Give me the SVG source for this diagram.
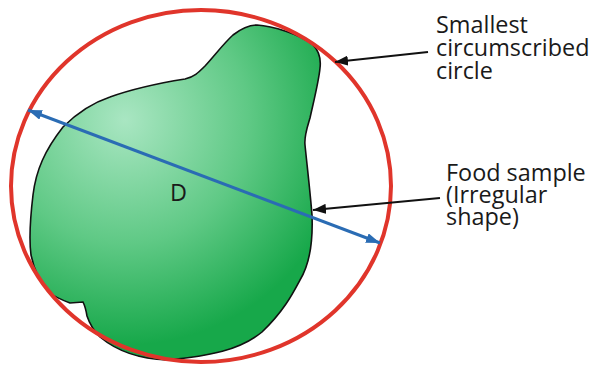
<svg xmlns="http://www.w3.org/2000/svg" width="597" height="366" viewBox="0 0 597 366">
<style>
.lbl{font-family:"Open Sans","Noto Sans",sans-serif;font-size:23.4px;fill:#1a1a1a}
.ptr{stroke:#111;stroke-width:2;fill:none}
</style>
<defs>
<radialGradient id="g" gradientUnits="userSpaceOnUse" cx="125" cy="120" r="225">
<stop offset="0" stop-color="#a9e6c2"/>
<stop offset="0.55" stop-color="#5fc985"/>
<stop offset="1" stop-color="#17a84a"/>
</radialGradient>
<marker id="ab" viewBox="0 0 14 10" refX="14" refY="5" markerWidth="14" markerHeight="10" markerUnits="userSpaceOnUse" orient="auto-start-reverse">
<path d="M0,0 L14,5 L0,10 Z" fill="#2a6cb4"/>
</marker>
<marker id="ak" viewBox="0 0 13 10" refX="13" refY="5" markerWidth="13" markerHeight="10" markerUnits="userSpaceOnUse" orient="auto">
<path d="M0,0 L13,5 L0,10 Z" fill="#111"/>
</marker>
</defs>
<g id="sample">
<path d="M257,25 C272,26 300,34 313,45 C320,52 321,60 320,68 C319,80 314,100 310,118 C307,128 304,136 305,145 C307,165 310,190 312,215 C313,240 311,262 300,280 C292,295 283,312 262,332 C240,350 210,356 167,360 C140,359 118,352 100,337 C93,330 89,322 87,316 C86,310 84,304 83,302 L70,303 C62,300 55,297 50,293 C40,283 34,270 31,255 C29,240 30,220 33,195 C36,170 45,150 63,127 C78,112 95,102 110,97 C135,88 160,83 185,79 C194,77 198,73 205,66 C215,55 225,42 233,35 C242,28 250,25 257,25 Z" fill="url(#g)" stroke="#111" stroke-width="1.6"/>
</g>
<g id="circle">
<ellipse cx="201" cy="186" rx="190" ry="176" fill="none" stroke="#e0352b" stroke-width="4"/>
</g>
<g id="connectors">
<line x1="28" y1="110" x2="380" y2="243" stroke="#2a6cb4" stroke-width="3" marker-start="url(#ab)" marker-end="url(#ab)"/>
<line class="ptr" x1="428" y1="52" x2="335" y2="62" marker-end="url(#ak)"/>
<line class="ptr" x1="440" y1="198" x2="313" y2="210" marker-end="url(#ak)"/>
</g>
<g id="label-d">
<text class="lbl" x="170" y="201">D</text>
</g>
<g id="label-circle">
<text class="lbl" x="436" y="33">Smallest</text>
<text class="lbl" x="436" y="56">circumscribed</text>
<text class="lbl" x="436" y="79">circle</text>
</g>
<g id="label-sample">
<text class="lbl" x="446" y="181">Food sample</text>
<text class="lbl" x="446" y="203">(Irregular</text>
<text class="lbl" x="446" y="225">shape)</text>
</g>
</svg>
